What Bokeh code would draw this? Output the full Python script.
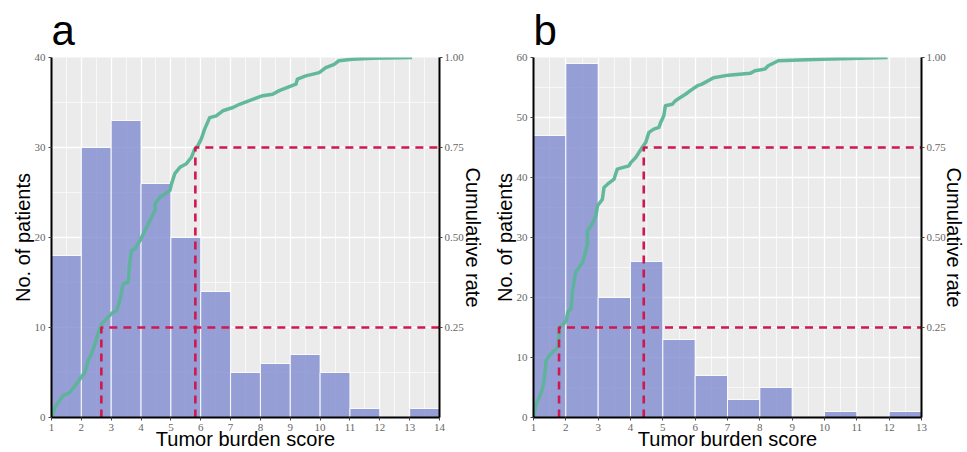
from bokeh.plotting import figure
from bokeh.layouts import row
from bokeh.models import (Range1d, LinearAxis, SingleIntervalTicker, FixedTicker,
                          Title, PrintfTickFormatter)
from bokeh.embed import file_html
from bokeh.resources import INLINE

# ---------------- data ----------------
# panel a
edges_a = [1, 2, 3, 4, 5, 6, 7, 8, 9, 10, 11, 12, 13, 14]
counts_a = [18, 30, 33, 26, 20, 14, 5, 6, 7, 5, 1, 0, 1]
cum_x_a = [1.00, 1.12, 1.23, 1.40, 1.62, 1.84, 1.96, 2.12, 2.23, 2.34, 2.46, 2.57, 2.68,
           2.90, 3.07, 3.18, 3.29, 3.40, 3.57, 3.62, 3.68, 3.80, 3.97, 4.13, 4.30, 4.47,
           4.47, 4.63, 4.80, 4.97, 5.02, 5.13, 5.30, 5.52, 5.69, 5.80, 5.91, 6.02, 6.13,
           6.30, 6.52, 6.74, 7.08, 7.30, 7.63, 8.08, 8.41, 8.63, 9.19, 9.24, 9.52, 9.97,
           10.19, 10.47, 10.63, 11.08, 11.74, 13.08]
cum_y_a = [0.000, 0.029, 0.043, 0.061, 0.070, 0.094, 0.108, 0.126, 0.158, 0.177, 0.205,
           0.237, 0.260, 0.279, 0.293, 0.297, 0.325, 0.371, 0.376, 0.427, 0.464, 0.469,
           0.492, 0.519, 0.547, 0.575, 0.594, 0.612, 0.621, 0.631, 0.649, 0.677, 0.695,
           0.705, 0.723, 0.746, 0.756, 0.774, 0.801, 0.833, 0.838, 0.852, 0.861, 0.870,
           0.880, 0.894, 0.898, 0.908, 0.926, 0.940, 0.949, 0.958, 0.972, 0.981, 0.991,
           0.995, 0.998, 1.000]
quart_a = [2.67, 5.82]

# panel b
edges_b = [1, 2, 3, 4, 5, 6, 7, 8, 9, 10, 11, 12, 13]
counts_b = [47, 59, 20, 26, 13, 7, 3, 5, 0, 1, 0, 1]
cum_x_b = [1.00, 1.08, 1.18, 1.29, 1.34, 1.39, 1.49, 1.65, 1.75, 1.80, 1.80, 1.90, 2.01,
           2.06, 2.16, 2.21, 2.26, 2.31, 2.42, 2.52, 2.62, 2.67, 2.67, 2.78, 2.93, 2.98,
           3.13, 3.18, 3.29, 3.49, 3.59, 3.75, 3.95, 4.01, 4.16, 4.36, 4.47, 4.57, 4.72,
           4.88, 4.93, 5.03, 5.08, 5.29, 5.39, 5.54, 5.70, 5.85, 6.06, 6.21, 6.57, 7.03,
           7.70, 7.85, 8.16, 8.26, 8.57, 9.90, 11.95]
cum_y_b = [0.000, 0.038, 0.056, 0.084, 0.112, 0.158, 0.172, 0.186, 0.195, 0.237, 0.251,
           0.256, 0.269, 0.293, 0.302, 0.353, 0.381, 0.404, 0.418, 0.431, 0.464, 0.482,
           0.519, 0.532, 0.560, 0.588, 0.606, 0.639, 0.648, 0.662, 0.690, 0.694, 0.699,
           0.708, 0.722, 0.750, 0.764, 0.792, 0.801, 0.806, 0.819, 0.838, 0.866, 0.870,
           0.880, 0.889, 0.898, 0.908, 0.921, 0.926, 0.944, 0.951, 0.956, 0.963, 0.968,
           0.977, 0.991, 0.995, 1.000]
quart_b = [1.79, 4.41]

quart_levels = [0.25, 0.75]
rate_ticks = [0.25, 0.50, 0.75, 1.00]

x_title = "Tumor burden score"
y_title = "No. of patients"
y2_title = "Cumulative rate"

# ---------------- styling ----------------
BG = "#EBEBEB"
BAR = "#7F8CD0"
GREEN = "#5BB597"
RED = "#D0174F"
TICK_FONT = "Liberation Serif"
LABEL_FONT = "Liberation Sans"


def style_axis(ax, label):
    ax.axis_label = label
    ax.axis_label_text_font = LABEL_FONT
    ax.axis_label_text_font_size = "20px"
    ax.axis_label_text_font_style = "normal"
    ax.axis_label_text_color = "black"
    ax.major_label_text_font = TICK_FONT
    ax.major_label_text_font_size = "11px"
    ax.major_label_text_color = "#666666"
    ax.major_label_standoff = 2
    ax.axis_line_color = "black"
    ax.axis_line_width = 2
    ax.major_tick_line_color = "#444444"
    ax.major_tick_out = 3
    ax.major_tick_in = 0
    ax.minor_tick_line_color = None


def make_panel(letter, edges, counts, cum_x, cum_y, quarts, ymax, width,
               bl, br, rstand):
    p = figure(width=width, height=452,
               x_range=Range1d(edges[0], edges[-1]),
               y_range=Range1d(0, ymax),
               output_backend="svg", toolbar_location=None,
               min_border_left=bl, min_border_right=br,
               min_border_top=57, min_border_bottom=35,
               background_fill_color=BG, border_fill_color="white",
               outline_line_color=None)
    p.extra_y_ranges = {"rate": Range1d(0, 1)}

    p.title = Title(text=letter, text_font=LABEL_FONT, text_font_size="42px",
                    text_font_style="normal", text_color="black",
                    align="left", offset=0, standoff=7)

    xt = SingleIntervalTicker(interval=1, num_minor_ticks=2)
    yt = SingleIntervalTicker(interval=10, num_minor_ticks=2)
    p.xaxis.ticker = xt
    p.yaxis.ticker = yt
    p.xgrid.ticker = xt
    p.ygrid.ticker = yt
    for g in (p.xgrid, p.ygrid):
        g.grid_line_color = "white"
        g.grid_line_width = 1.3
        g.minor_grid_line_color = "white"
        g.minor_grid_line_width = 0.8
        g.minor_grid_line_alpha = 0.8

    style_axis(p.xaxis[0], x_title)
    style_axis(p.yaxis[0], y_title)
    p.xaxis.axis_label_standoff = -6
    p.yaxis.axis_label_standoff = -2

    rax = LinearAxis(y_range_name="rate",
                     ticker=FixedTicker(ticks=rate_ticks),
                     formatter=PrintfTickFormatter(format="%.2f"))
    style_axis(rax, y2_title)
    rax.axis_label_standoff = rstand
    p.add_layout(rax, "right")

    p.quad(left=edges[:-1], right=edges[1:], bottom=0, top=counts,
           fill_color=BAR, fill_alpha=0.8, line_color="white",
           line_width=1, line_alpha=0.9)

    p.line(cum_x, cum_y, y_range_name="rate", line_color=GREEN,
           line_width=3.5, line_join="round", line_alpha=0.95)

    for q, lv in zip(quarts, quart_levels):
        p.line([q, q, edges[-1]], [0, lv, lv], y_range_name="rate",
               line_color=RED, line_width=2.6, line_dash="8 6")
    return p


pa = make_panel("a", edges_a, counts_a, cum_x_a, cum_y_a, quart_a, 40, 486, 51, 45, -5)
pb = make_panel("b", edges_b, counts_b, cum_x_b, cum_y_b, quart_b, 60, 481, 47, 44, -6)

layout = row(pa, pb)
open("out.html", "w").write(file_html(layout, INLINE))
